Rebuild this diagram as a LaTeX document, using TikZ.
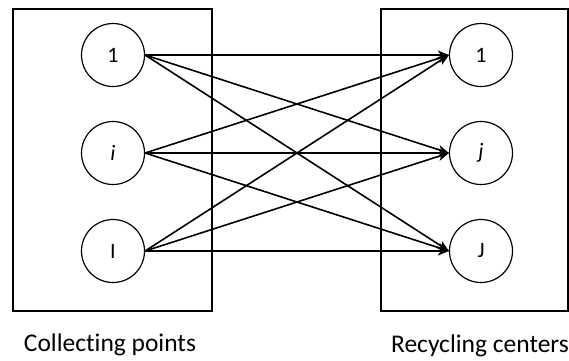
\documentclass[tikz,border=0pt]{standalone}
\usepackage{fontspec}
\setmainfont[Ligatures={CommonOff}]{Carlito}
\usetikzlibrary{arrows.meta}
\tikzset{
	site/.style={draw, circle, line width=1.2pt, minimum size=63pt, inner sep=0pt, font=\fontsize{22}{26}\selectfont},
	flow/.style={line width=1.6pt, -{Stealth[length=11pt, width=9pt, inset=3pt]}}
}
\begin{document}
\begin{tikzpicture}[x=1pt, y=-1pt]
	\useasboundingbox (0, 0) rectangle (569, 360);
	\draw [line width=1.5pt] (13, 9) rectangle (212, 311);
	\draw [line width=1.5pt] (381, 9) rectangle (568, 311);
	\node [site] (c1) at (113, 55) {1};
	\node [site] (ci) at (113, 153) {\itshape i};
	\node [site] (cI) at (113, 251) {I};
	\node [site] (r1) at (481, 55) {1};
	\node [site] (rj) at (481, 153) {\itshape j};
	\node [site] (rJ) at (481, 251) {J};
	\draw [flow] (c1.east) -- (r1.west);
	\draw [flow] (c1.east) -- (rj.west);
	\draw [flow] (c1.east) -- (rJ.west);
	\draw [flow] (ci.east) -- (r1.west);
	\draw [flow] (ci.east) -- (rj.west);
	\draw [flow] (ci.east) -- (rJ.west);
	\draw [flow] (cI.east) -- (r1.west);
	\draw [flow] (cI.east) -- (rj.west);
	\draw [flow] (cI.east) -- (rJ.west);
	\node (cp) at (110, 345) {\fontsize{25.5}{30}\selectfont Collecting points};
	\node (rc) at (480, 346) {\fontsize{25.5}{30}\selectfont Recycling centers};
\end{tikzpicture}
\end{document}
